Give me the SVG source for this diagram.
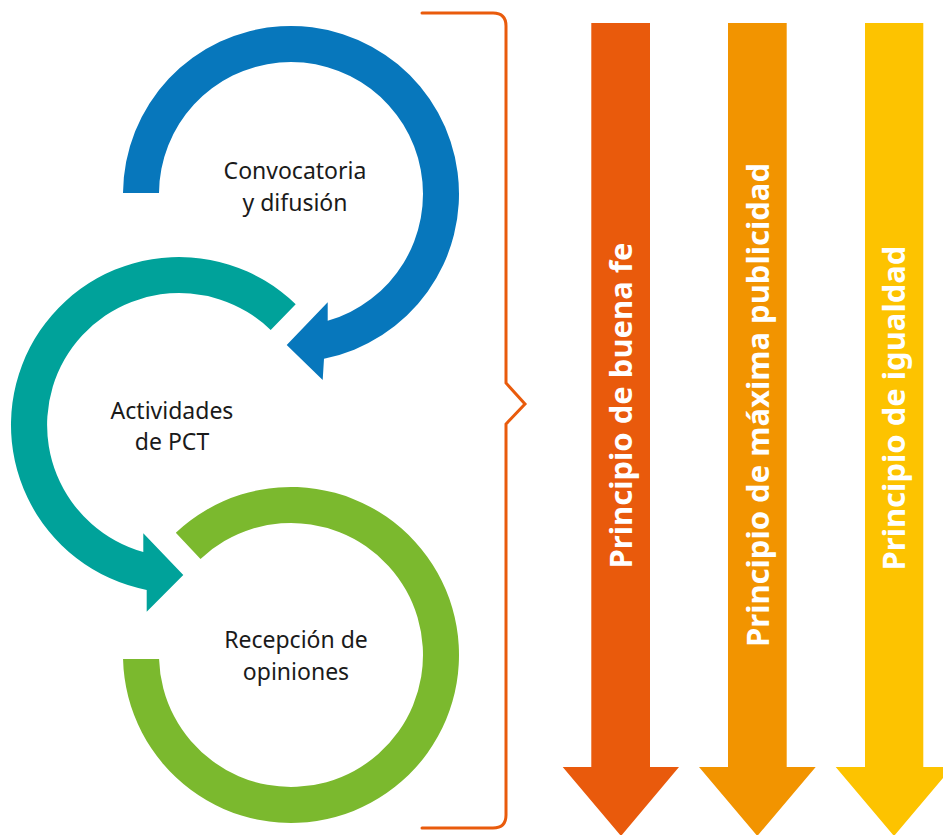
<svg xmlns="http://www.w3.org/2000/svg" width="943" height="835" viewBox="0 0 943 835">
  <style>
    .lbl { font-family: "Noto Sans", "Open Sans", "Liberation Sans", sans-serif; font-size: 23px; fill: #1a1a1a; text-anchor: middle; }
    .vlbl { font-family: "Noto Sans", "Open Sans", "Liberation Sans", sans-serif; font-size: 31px; font-weight: bold; fill: #ffffff; text-anchor: middle; }
    .brace { fill: none; stroke: #E95B0C; stroke-width: 3; stroke-linecap: round; stroke-linejoin: miter; }
  </style>
  <rect width="943" height="835" fill="#ffffff"/>

  <g id="node-convocatoria">
    <path fill="#0777BC" d="M 123 193 A 168 168 0 1 1 324 358.7 L 322.7 380 L 286.7 345 L 327.7 302.3 L 327.7 320.8 A 132 132 0 1 0 159 193 Z"/>
    <text class="lbl" x="295" y="179">Convocatoria</text>
    <text class="lbl" x="295" y="211">y difusión</text>
  </g>

  <g id="node-actividades">
    <path fill="#00A29A" d="M 295.7 304.2 A 168 168 0 1 0 146.7 589.9 L 146.7 611.7 L 183.3 575 L 143.3 533.3 L 143.3 552.1 A 132 132 0 1 1 270.7 330 Z"/>
    <text class="lbl" x="172" y="419">Actividades</text>
    <text class="lbl" x="172" y="450">de PCT</text>
  </g>

  <g id="node-recepcion">
    <path fill="#7BB92E" d="M 175.8 532.7 A 168 168 0 1 1 123.05 659 L 159.06 659 A 132 132 0 1 0 200.5 558.9 Z"/>
    <text class="lbl" x="296" y="648">Recepción de</text>
    <text class="lbl" x="296" y="680">opiniones</text>
  </g>

  <g id="connectors">
    <path class="brace" d="M 422 13 L 493 13 Q 506 13 506 26 L 506 383 L 525 404 L 506 424 L 506 815 Q 506 828 493 828 L 422 828"/>
  </g>

  <g id="node-buena-fe">
    <polygon fill="#E95A0C" points="591.3,23 650,23 650,767 679,767 621,836 562.7,767 591.3,767"/>
    <text class="vlbl" transform="translate(632,405.5) rotate(-90)">Principio de buena fe</text>
  </g>

  <g id="node-maxima-publicidad">
    <polygon fill="#F29400" points="728,23 786.7,23 786.7,767 815.7,767 757.3,836 699,767 728,767"/>
    <text class="vlbl" transform="translate(768.5,405) rotate(-90)">Principio de máxima publicidad</text>
  </g>

  <g id="node-igualdad">
    <polygon fill="#FDC300" points="865,23 923.3,23 923.3,767 952.3,767 894,836 835.7,767 865,767"/>
    <text class="vlbl" transform="translate(904.5,408) rotate(-90)">Principio de igualdad</text>
  </g>
</svg>
